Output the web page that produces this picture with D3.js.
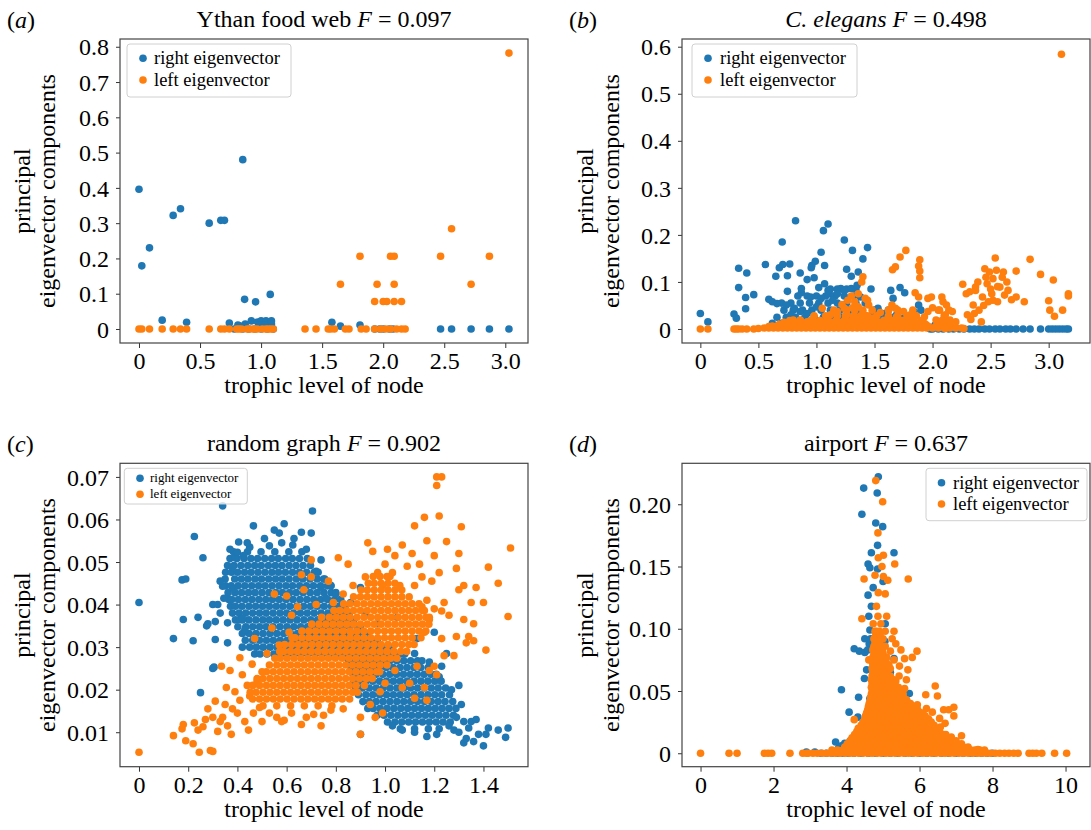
<!DOCTYPE html>
<html>
<head>
<meta charset="utf-8">
<script src="https://cdnjs.cloudflare.com/ajax/libs/d3/7.8.5/d3.min.js"></script>
<style>
  body { margin: 0; background: #fff; }
  svg { display: block; }
  text { font-family: "Liberation Serif", "Times New Roman", serif; fill: #000; }
</style>
</head>
<body>
<div id="chart"></div>
<script>
// ---- data ----
var blue = "#1f77b4", orange = "#ff7f0e";

// (a) Ythan food web
var ythanRight = [[0,0.396],[0.023,0.179],[0.086,0.230],[0.19,0.025],[0.28,0.322],[0.34,0.341],[0.39,0.019],
  [0.575,0.300],[0.67,0.308],[0.70,0.308],[0.74,0.017],[0.85,0.480],[0.865,0.084],[0.955,0.077],[1.075,0.098],
  [0.81,0.011],[0.87,0.014],[0.92,0.023],[0.97,0.020],[1.0,0.023],[1.04,0.023],[1.085,0.023],[1.085,0.014],
  [0.985,0.011],[1.03,0.011],[0.83,0.008],[1.58,0.019],[1.65,0.008],[1.81,0.011]];
var ythanRightZeroX = [0.78,0.85,0.9,0.95,1.0,1.05,1.1,1.93,1.97,2.0,2.05,2.08,2.47,2.56,2.72,2.87,3.03];
var ythanLeft = [[3.03,0.782],[2.56,0.284],[1.81,0.206],[2.06,0.206],[2.09,0.206],[2.47,0.206],[2.87,0.206],
  [1.65,0.127],[1.95,0.127],[2.09,0.127],[2.72,0.127],[1.93,0.078],[2.0,0.078],[2.03,0.078],[2.09,0.078],[2.15,0.078]];
var ythanLeftZeroX = [0,0.023,0.086,0.19,0.28,0.34,0.39,0.575,0.67,0.70,0.74,0.80,0.84,0.885,0.93,0.97,1.01,1.06,1.10,
  0.82,0.9,0.95,1.04,1.08,1.36,1.45,1.55,1.57,1.60,1.69,1.72,1.82,1.86,1.93,1.98,2.02,2.06,2.11,2.15,2.18];

// (b) C. elegans
var celegRight = [[0,0.033],[0.065,0.015],[0.29,0.032],[0.31,0.023],[0.33,0.129],[0.33,0.088],[0.40,0.119],[0.39,0.067],
  [0.39,0.043],[0.46,0.073],[0.56,0.137],[0.59,0.063],[0.65,0.112],[0.68,0.130],[0.71,0.137],[0.77,0.138],[0.705,0.185],
  [0.75,0.080],[0.75,0.113],[0.82,0.230],[0.86,0.119],[0.87,0.077],[0.87,0.086],[0.92,0.105],[0.955,0.130],[0.96,0.135],
  [0.99,0.144],[1.04,0.163],[1.06,0.209],[1.10,0.223],[1.07,0.135],[1.02,0.088],[0.98,0.109],[1.07,0.096],[1.11,0.075],
  [1.15,0.070],[1.24,0.189],[1.26,0.127],[1.31,0.167],[1.30,0.112],[1.36,0.121],[1.44,0.173],[1.40,0.149],[1.47,0.085],
  [1.21,0.086],[1.24,0.082],[1.30,0.086],[1.35,0.093],[1.38,0.068],[1.53,0.044],[1.64,0.082],[1.66,0.065],[1.72,0.088],
  [1.76,0.077],[1.88,0.051],[1.90,0.040],[1.84,0.037],[0.62,0.058],[0.66,0.054],[0.74,0.051],[0.81,0.044],[0.86,0.037],
  [0.95,0.068],[1.04,0.065],[1.10,0.082],[1.14,0.061],[1.18,0.075],[1.0,0.047],[0.92,0.033],[0.78,0.030],[1.48,0.030],
  [1.59,0.033],[1.69,0.030],[1.75,0.023],[1.81,0.019],[2.02,0.008],[2.07,0.004],[2.12,0.006],[2.17,0.003],[1.95,0.006]];
var celegRightCore = [
  [0.085,[1.12,1.18,1.26,1.34]],
  [0.070,[0.84,0.92,1.0,1.08,1.16,1.24,1.32]],
  [0.055,[0.7,0.78,0.86,0.94,1.02,1.1,1.18,1.26,1.34,1.42]],
  [0.040,[0.72,0.8,0.88,0.96,1.04,1.12,1.2,1.28,1.36,1.5,1.62]],
  [0.025,[0.66,0.74,0.82,0.9,0.98,1.06,1.14,1.22,1.3,1.38,1.46,1.54,1.66,1.78]],
  [0.012,[0.62,0.7,0.78,0.86,0.94,1.02,1.1,1.18,1.26,1.34,1.42,1.5,1.58,1.7,1.82,1.92]]];
var celegRightZeroX = [1.98,2.0,2.05,2.09,2.14,2.18,2.23,2.27,2.32,2.36,2.40,2.45,2.49,2.54,2.58,2.63,2.67,2.72,2.78,2.84,
  2.93,3.0,3.03,3.06,3.09,3.12,3.15,3.17];
var celegLeft = [[3.11,0.584],[1.72,0.153],[1.77,0.167],[1.655,0.126],[1.68,0.132],[1.89,0.147],[1.88,0.134],[1.89,0.123],
  [1.89,0.109],[1.85,0.077],[1.88,0.068],[1.96,0.065],[1.40,0.111],[1.39,0.100],[1.44,0.061],[1.45,0.051],[2.26,0.095],
  [2.29,0.075],[2.32,0.079],[2.37,0.082],[2.39,0.100],[2.45,0.128],[2.49,0.121],[2.52,0.107],[2.54,0.151],[2.51,0.075],
  [2.43,0.068],[2.35,0.051],[2.30,0.030],[2.36,0.033],[2.42,0.015],[2.61,0.121],[2.58,0.089],[2.62,0.072],[2.65,0.082],
  [2.72,0.123],[2.72,0.068],[2.79,0.058],[2.84,0.148],[2.93,0.116],[3.0,0.060],[3.01,0.040],[3.04,0.104],[3.05,0.027],
  [3.12,0.040],[3.17,0.075],[3.17,0.070],[2.48,0.058],[2.52,0.061],[2.56,0.058],[2.37,0.089],[2.47,0.096],[2.6,0.11],
  [1.99,0.068],[2.08,0.068],[2.09,0.058],[2.12,0.051],[2.05,0.040],[2.11,0.030],[2.17,0.037],[2.15,0.019],[2.20,0.015],
  [2.03,0.019],[2.11,0.001],[2.27,0.001],[1.93,0.026],[1.96,0.037],[1.27,0.061],[1.33,0.058],[1.36,0.047],[1.24,0.044],
  [1.18,0.037],[1.05,0.044],[1.12,0.030],[1.26,0.030],[1.33,0.026],[1.41,0.030],[1.48,0.023],[1.60,0.019],[1.65,0.051],
  [1.68,0.044],[1.75,0.037],[1.81,0.030],[1.69,0.026],[0.80,0.019],[0.86,0.019],[0.92,0.015],[0.74,0.012],[0.68,0.008],
  [0.59,0.005],[1.3,0.07],[1.36,0.075],[1.42,0.065],[1.31,0.045],[1.22,0.052],[1.55,0.035],[1.62,0.04],[2.0,0.045],
  [0,0],[0.065,0],[0.29,0],[0.31,0],[0.33,0],[0.36,0],[0.40,0],[0.46,0],[0.50,0.001],[2.33,0.02],[2.4,0.04],[2.56,0.09],
  [2.64,0.1],[2.68,0.062],[2.46,0.11],[2.55,0.125],[2.5,0.085],[2.44,0.05]];
var celegLeftCore = [
  [0.002,[0.55,0.59,0.63,0.67,0.71,0.75,0.79,0.83,0.87,0.91,0.95,0.99,1.03,1.07,1.11,1.15,1.19,1.23,1.27,1.31,1.35,1.39,
          1.43,1.47,1.51,1.55,1.59,1.63,1.67,1.71,1.75,1.79,1.83,1.87,1.91,1.95,2.0,2.05,2.1,2.15,2.2,2.25]],
  [0.006,[0.62,0.66,0.7,0.745,0.79,0.835,0.88,0.925,0.97,1.015,1.06,1.105,1.15,1.195,1.24,1.285,1.33,1.375,1.42,1.465,
          1.51,1.555,1.6,1.645,1.69,1.735,1.78,1.825,1.87,1.915,1.96,2.03,2.08,2.13,2.19]],
  [0.010,[0.68,0.74,0.8,0.86,0.92,0.98,1.04,1.1,1.16,1.22,1.28,1.34,1.4,1.46,1.52,1.58,1.64,1.7,1.76,1.82,1.88,1.94,
          2.05,2.1,2.15]],
  [0.014,[0.72,0.8,0.87,0.93,0.99,1.06,1.13,1.2,1.27,1.33,1.39,1.45,1.54,1.62,1.69,1.77,1.85,1.92,2.1,2.16]],
  [0.018,[0.77,0.86,0.95,1.03,1.1,1.17,1.24,1.3,1.36,1.42,1.5,1.58,1.66,1.74,1.82,1.9,2.08,2.13]],
  [0.028,[0.98,1.08,1.18,1.25,1.32,1.38,1.44,1.52,1.62,1.7,1.78,1.86,2.1]],
  [0.040,[1.15,1.26,1.33,1.4,1.48,1.7,1.83,2.06,2.14]]];

// (c) random graph
var randRight = [[0,0.0405],[0.14,0.032],[0.18,0.0365],[0.175,0.0458],[0.19,0.046],[0.22,0.0315],[0.225,0.056],[0.24,0.037],
  [0.25,0.0193],[0.26,0.051],[0.275,0.035],[0.28,0.0355],[0.30,0.025],[0.305,0.0253],[0.30,0.040],[0.31,0.0318],[0.31,0.036],
  [0.33,0.038],[0.34,0.0632],[0.34,0.0443],[0.345,0.0415],[0.36,0.0357],[0.36,0.031],[0.37,0.053],[0.38,0.0488],[0.385,0.0437],
  [0.39,0.051],[0.40,0.0523],[0.405,0.0547],[0.41,0.0365],[0.42,0.0367],[0.42,0.030],[0.425,0.0515],[0.43,0.034],
  [0.45,0.0535],[0.465,0.0585],[0.55,0.0575],[0.57,0.0568],[0.59,0.059],[0.625,0.054],[0.66,0.057],[0.70,0.0568],
  [0.705,0.062],[0.72,0.0478],[0.74,0.044],[0.75,0.046],[0.76,0.0415],[0.78,0.0445],[0.80,0.0425],[0.84,0.036],
  [0.9,0.044],[0.86,0.0405],[0.92,0.0375],[0.97,0.0355],[1.05,0.037],[1.13,0.032],[1.2,0.0335],[1.12,0.0285],
  [0.9,0.0095],[1.03,0.0115],[1.07,0.0105],[1.12,0.010],[1.17,0.009],[1.21,0.0095],[1.25,0.0285],[1.26,0.0115],
  [1.27,0.020],[1.28,0.0105],[1.29,0.0135],[1.3,0.021],[1.3,0.010],[1.31,0.0165],[1.32,0.0075],[1.32,0.0125],[1.33,0.0085],
  [1.34,0.011],[1.35,0.0125],[1.36,0.0078],[1.37,0.013],[1.38,0.0095],[1.40,0.0068],[1.41,0.0095],[1.42,0.011],
  [1.46,0.0105],[1.49,0.0088],[1.5,0.011],[1.23,0.0255],[1.22,0.023],[1.18,0.0265],[0.82,0.031],[0.87,0.033],[0.96,0.031],
  [0.51,0.0555],[0.63,0.0555],[0.68,0.053],[0.74,0.0505],[0.33,0.0455],[0.32,0.040],[0.44,0.0545],[0.53,0.0538],[0.58,0.0545]];
// dense blue cores, rows of [y, xs]
var randRightCore = [
  [0.0524,[0.384,0.441,0.496,0.552,0.609,0.662]],
  [0.0508,[0.370,0.398,0.427,0.455,0.482,0.511,0.539,0.566,0.596,0.623,0.652,0.684]],
  [0.0492,[0.360,0.386,0.414,0.442,0.470,0.497,0.526,0.554,0.581,0.610,0.638,0.667,0.697]],
  [0.0476,[0.352,0.376,0.401,0.429,0.456,0.484,0.512,0.540,0.567,0.595,0.624,0.652,0.681,0.712,0.728]],
  [0.0460,[0.350,0.389,0.416,0.443,0.471,0.498,0.527,0.555,0.582,0.610,0.639,0.666,0.695,0.724,0.755]],
  [0.0444,[0.352,0.375,0.403,0.430,0.458,0.486,0.513,0.541,0.569,0.597,0.624,0.653,0.681,0.709,0.738,0.766,0.780]],
  [0.0428,[0.362,0.390,0.417,0.445,0.472,0.500,0.528,0.556,0.583,0.612,0.639,0.667,0.696,0.724,0.752,0.781,0.800]],
  [0.0412,[0.365,0.377,0.404,0.432,0.459,0.487,0.515,0.542,0.570,0.598,0.626,0.654,0.682,0.710,0.738,0.767,0.795,0.820]],
  [0.0396,[0.372,0.392,0.419,0.447,0.474,0.502,0.530,0.558,0.585,0.613,0.641,0.669,0.697,0.725,0.753,0.782,0.811,0.838]],
  [0.0380,[0.380,0.407,0.434,0.462,0.490,0.517,0.545,0.573,0.600,0.628,0.656,0.684,0.712,0.740,0.768,0.797,0.826,0.855]],
  [0.0364,[0.392,0.420,0.447,0.475,0.503,0.530,0.558,0.586,0.614,0.642,0.670,0.698,0.726,0.754,0.783,0.812,0.841,0.872]],
  [0.0348,[0.402,0.434,0.462,0.490,0.517,0.545,0.573,0.601,0.629,0.657,0.685,0.713,0.741,0.769,0.798,0.827,0.856,0.886,0.900]],
  [0.0332,[0.420,0.448,0.476,0.504,0.532,0.560,0.588,0.616,0.644,0.672,0.700,0.728,0.756,0.785,0.814,0.843,0.872,0.901,0.928]],
  [0.0316,[0.432,0.462,0.490,0.518,0.546,0.574,0.602,0.630,0.658,0.686,0.714,0.742,0.771,0.800,0.829,0.858,0.887,0.916,0.945,0.968]],
  [0.0300,[0.450,0.477,0.505,0.533,0.561,0.589,0.617,0.645,0.673,0.701,0.729,0.757,0.786,0.815,0.844,0.873,0.902,0.931,0.960,0.990,1.018]],
  [0.0284,[0.470,0.492,0.520,0.548,0.576,0.604,0.632,0.660,0.688,0.716,0.744,0.772,0.801,0.830,0.859,0.888,0.917,0.946,0.975,1.004,1.034,1.064,1.080]],
  [0.0268,[0.852,0.880,0.908,0.936,0.964,0.992,1.020,1.048,1.076,1.104,1.132,1.150]],
  [0.0252,[0.862,0.893,0.921,0.949,0.977,1.005,1.033,1.061,1.089,1.117,1.145,1.175]],
  [0.0236,[0.870,0.880,0.907,0.935,0.963,0.991,1.019,1.047,1.075,1.103,1.131,1.159,1.187,1.208]],
  [0.0220,[0.872,0.894,0.922,0.950,0.978,1.006,1.034,1.062,1.090,1.118,1.146,1.174,1.202,1.228]],
  [0.0204,[0.880,0.908,0.936,0.964,0.992,1.020,1.048,1.076,1.104,1.132,1.160,1.188,1.216,1.246]],
  [0.0188,[0.892,0.922,0.950,0.978,1.006,1.034,1.062,1.090,1.118,1.146,1.174,1.202,1.230,1.262]],
  [0.0172,[0.910,0.936,0.964,0.992,1.020,1.048,1.076,1.104,1.132,1.160,1.188,1.216,1.244,1.275]],
  [0.0156,[0.930,0.952,0.980,1.008,1.036,1.064,1.092,1.120,1.148,1.176,1.204,1.232,1.260,1.288]],
  [0.0140,[0.968,0.996,1.024,1.052,1.080,1.108,1.136,1.164,1.192,1.220,1.248,1.278]],
  [0.0124,[1.010,1.040,1.068,1.096,1.124,1.152,1.180,1.208,1.236,1.265]],
  [0.0108,[1.062,1.120,1.176,1.220]]];
var randLeft = [[0,0.0053],[0.14,0.0092],[0.175,0.0108],[0.18,0.0118],[0.19,0.008],[0.22,0.0073],[0.225,0.0122],[0.24,0.0105],
  [0.245,0.0053],[0.26,0.0113],[0.27,0.013],[0.28,0.0155],[0.29,0.0057],[0.30,0.0055],[0.30,0.0135],[0.31,0.0173],[0.32,0.0102],
  [0.33,0.0125],[0.335,0.0255],[0.34,0.0135],[0.35,0.0165],[0.355,0.0205],[0.36,0.0115],[0.37,0.0245],[0.375,0.0095],[0.38,0.0155],
  [0.39,0.0195],[0.40,0.0145],[0.41,0.0275],[0.41,0.0175],[0.42,0.0235],[0.43,0.0125],[0.44,0.021],[0.445,0.0105],[0.45,0.0185],
  [0.46,0.026],[0.465,0.0145],[0.47,0.032],[0.48,0.022],[0.5,0.0125],[0.52,0.0285],[0.54,0.0345],[0.56,0.0135],[0.57,0.0305],
  [0.58,0.0125],[0.6,0.042],[0.61,0.0335],[0.62,0.0375],[0.645,0.0395],[0.67,0.0435],[0.7,0.0505],[0.7,0.0465],[0.72,0.040],
  [0.77,0.0455],[0.79,0.0405],[0.81,0.051],[0.83,0.0425],[0.83,0.0155],[0.85,0.0495],[0.87,0.0445],[0.9,0.0095],[0.9,0.0135],
  [0.92,0.0465],[0.93,0.0545],[0.95,0.0525],[0.97,0.0475],[0.99,0.0445],[1.0,0.0495],[1.01,0.053],[1.03,0.0475],[1.04,0.0515],
  [1.06,0.0445],[1.07,0.0205],[1.07,0.054],[1.09,0.049],[1.11,0.052],[1.12,0.0445],[1.12,0.0585],[1.13,0.0255],[1.14,0.0495],
  [1.15,0.0395],[1.15,0.0465],[1.16,0.0605],[1.16,0.0335],[1.17,0.055],[1.17,0.041],[1.18,0.0365],[1.18,0.0245],[1.19,0.0455],
  [1.2,0.0515],[1.2,0.039],[1.21,0.070],[1.21,0.068],[1.22,0.0608],[1.22,0.0475],[1.23,0.070],[1.23,0.0385],[1.23,0.032],
  [1.24,0.0405],[1.24,0.028],[1.25,0.0548],[1.26,0.0375],[1.28,0.028],[1.29,0.0325],[1.29,0.0485],[1.3,0.0435],[1.3,0.052],
  [1.31,0.0583],[1.32,0.0365],[1.32,0.0445],[1.33,0.031],[1.34,0.0325],[1.35,0.0405],[1.36,0.0315],[1.36,0.0355],[1.37,0.044],
  [1.40,0.0405],[1.41,0.0293],[1.42,0.0488],[1.46,0.045],[1.50,0.0372],[1.51,0.0533],[0.75,0.014],[0.68,0.0135],[0.62,0.0145],
  [0.96,0.0135],[0.99,0.0145],[1.0,0.0215],[1.04,0.0245],[1.16,0.0205],[1.17,0.0175],[1.2,0.0255],[1.21,0.0235],[0.98,0.0195],
  [1.1,0.0215],[0.94,0.0165],[1.12,0.018],[0.55,0.0425],[0.66,0.047],[0.86,0.0335],[0.74,0.0115],[0.53,0.0145],[0.59,0.0128],
  [0.66,0.0118],[0.71,0.0142],[0.49,0.0158],[0.78,0.0152]];
// dense orange core, rows of [y, xs]
var randLeftCore = [
  [0.0162,[0.504,0.560,0.616,0.672,0.728,0.784]],
  [0.0178,[0.462,0.490,0.518,0.546,0.574,0.602,0.630,0.658,0.686,0.714,0.742,0.770,0.798,0.826,0.856]],
  [0.0194,[0.452,0.476,0.504,0.532,0.560,0.588,0.616,0.644,0.672,0.700,0.728,0.756,0.784,0.812,0.840,0.868,0.888]],
  [0.0210,[0.462,0.490,0.518,0.546,0.574,0.602,0.630,0.658,0.686,0.714,0.742,0.770,0.798,0.826,0.854,0.882,0.916]],
  [0.0226,[0.480,0.504,0.532,0.560,0.588,0.616,0.644,0.672,0.700,0.728,0.756,0.784,0.812,0.840,0.868,0.896,0.924,0.948]],
  [0.0242,[0.500,0.518,0.546,0.574,0.602,0.630,0.658,0.686,0.714,0.742,0.770,0.798,0.826,0.854,0.882,0.910,0.938,0.966,0.978]],
  [0.0258,[0.530,0.560,0.588,0.616,0.644,0.672,0.700,0.728,0.756,0.784,0.812,0.840,0.868,0.896,0.924,0.952,0.980,1.008]],
  [0.0274,[0.552,0.574,0.602,0.630,0.658,0.686,0.714,0.742,0.770,0.798,0.826,0.854,0.882,0.910,0.938,0.966,0.994,1.022,1.048]],
  [0.0290,[0.572,0.588,0.616,0.644,0.672,0.700,0.728,0.756,0.784,0.812,0.840,0.868,0.896,0.924,0.952,0.980,1.008,1.036,1.064,1.088]],
  [0.0306,[0.592,0.620,0.648,0.676,0.704,0.732,0.760,0.788,0.816,0.844,0.872,0.900,0.928,0.956,0.984,1.012,1.040,1.068,1.096,1.118]],
  [0.0322,[0.622,0.634,0.662,0.690,0.718,0.746,0.774,0.802,0.830,0.858,0.886,0.914,0.942,0.970,0.998,1.026,1.054,1.082,1.110,1.146]],
  [0.0338,[0.662,0.690,0.718,0.746,0.774,0.802,0.830,0.858,0.886,0.914,0.942,0.970,0.998,1.026,1.054,1.082,1.110,1.138,1.166]],
  [0.0354,[0.702,0.732,0.760,0.788,0.816,0.844,0.872,0.900,0.928,0.956,0.984,1.012,1.040,1.068,1.096,1.124,1.152,1.178]],
  [0.0370,[0.742,0.774,0.802,0.830,0.858,0.886,0.914,0.942,0.970,0.998,1.026,1.054,1.082,1.110,1.138,1.166,1.180]],
  [0.0386,[0.792,0.816,0.844,0.872,0.900,0.928,0.956,0.984,1.012,1.040,1.068,1.096,1.124,1.152,1.160]],
  [0.0402,[0.832,0.858,0.886,0.914,0.942,0.970,0.998,1.026,1.054,1.082,1.110,1.138]],
  [0.0418,[0.872,0.900,0.928,0.956,0.984,1.012,1.040,1.068,1.098]],
  [0.0434,[0.902,0.928,0.956,0.984,1.012,1.040,1.068]],
  [0.0450,[0.932,0.956,0.984,1.012,1.040]],
  [0.0466,[0.952,0.980,1.008,1.020]]];

// (d) airport
var airRight = [[4.87,0.222],[4.47,0.213],[4.84,0.209],[4.42,0.192],[4.80,0.185],[4.99,0.182],[4.85,0.167],[4.68,0.161],
  [5.30,0.161],[4.59,0.152],[4.64,0.149],[4.85,0.148],[5.0,0.138],[4.73,0.133],[4.59,0.127],[4.68,0.118],[4.61,0.110],
  [5.06,0.104],[4.64,0.099],[4.50,0.092],[4.21,0.084],[4.35,0.082],[4.50,0.081],[5.01,0.075],[5.30,0.076],[4.55,0.067],
  [4.78,0.070],[4.49,0.060],[5.11,0.059],[3.86,0.051],[4.64,0.044],[4.33,0.045],[4.07,0.033],[4.31,0.029],[5.72,0.048],
  [3.70,0.009],[4.40,0.020],[4.50,0.016],[4.78,0.035],[5.16,0.040],[5.44,0.037],[3.93,0.004],[2.90,0.001],[3.13,0.001],
  [3.78,0.004],[3.86,0.006],[3.95,0.008],[4.02,0.006],[4.1,0.01],[4.2,0.012],[5.05,0.09],[4.95,0.078],[5.2,0.065],
  [4.62,0.088],[4.66,0.092],[4.58,0.083],[5.0,0.052],[4.95,0.06],[5.04,0.048],[4.7,0.045],[7.7,0.0],[7.85,0.0],[8.0,0.0]];
var airRightZeroX = [3.3,3.45,3.6,3.75,3.9,4.05,4.2,4.4,4.6,4.8,5.0,5.2,5.4,5.6,5.8,6.0,6.2,6.4,6.6,6.8,7.0,7.2,7.4,7.55];
var airLeft = [[4.80,0.219],[4.99,0.202],[4.86,0.177],[5.01,0.159],[4.87,0.157],[5.32,0.152],[4.97,0.150],[4.48,0.140],
  [4.78,0.143],[5.01,0.142],[5.13,0.139],[5.69,0.140],[4.87,0.129],[5.06,0.128],[4.82,0.118],[4.86,0.110],[4.42,0.108],
  [4.73,0.104],[4.94,0.104],[5.30,0.098],[4.82,0.098],[5.06,0.098],[4.92,0.092],[5.35,0.088],[5.49,0.083],
  [5.93,0.082],[5.06,0.086],[5.59,0.076],[5.80,0.077],[4.61,0.075],[4.86,0.069],[5.16,0.071],[5.68,0.067],
  [5.44,0.062],[5.01,0.062],[5.64,0.059],[5.16,0.056],[5.59,0.052],[6.43,0.054],[6.17,0.047],[6.49,0.046],
  [5.64,0.043],[5.94,0.039],[6.19,0.036],[6.66,0.035],[6.94,0.037],[6.80,0.035],[6.94,0.030],[6.35,0.033],[6.10,0.031],
  [5.91,0.024],[6.57,0.021],[6.87,0.013],[7.15,0.014],[6.47,0.013],[4.21,0.027],[4.36,0.016],[6.0,0.016],[6.28,0.017],
  [6.66,0.015],[6.28,0.007],[6.75,0.005],[7.04,0.005],[7.32,0.004],[7.60,0.003],[5.2,0.082],[5.25,0.092],[5.1,0.11],
  [5.3,0.075],[5.45,0.07],[5.5,0.05],[5.35,0.058],[6.05,0.026],[6.3,0.024],[6.2,0.028],[6.55,0.028],[6.7,0.024]];
var airLeftZeroX = [0,0.78,1.0,1.75,1.85,1.95,2.45,2.8,2.9,9.0,9.1,9.2,9.35,9.7,10.03];
// dense orange core, rows of [y, xs]
var airLeftCore = [
  [0.000,[2.95,3.08,3.2,3.33,3.45,3.58,3.7,3.82,3.95,4.08,4.2,4.33,4.45,4.58,4.7,4.83,4.95,5.08,5.2,5.33,5.45,5.58,5.7,5.83,
          5.95,6.08,6.2,6.33,6.45,6.58,6.7,6.83,6.95,7.08,7.2,7.33,7.45,7.58,7.7,7.83,7.95,8.08,8.2,8.33,8.45,8.58,8.7]],
  [0.0025,[3.6,3.75,3.9,4.02,4.15,4.28,4.4,4.52,4.65,4.78,4.9,5.02,5.15,5.28,5.4,5.52,5.65,5.78,5.9,6.02,6.15,6.28,6.4,
           6.52,6.65,6.78,6.9,7.02,7.15,7.28,7.4,7.52,7.65,7.78]],
  [0.005,[3.95,4.08,4.2,4.33,4.45,4.58,4.7,4.83,4.95,5.08,5.2,5.33,5.45,5.58,5.7,5.83,5.95,6.08,6.2,6.33,6.45,6.58,6.7,6.83,
          6.95,7.08,7.2,7.33]],
  [0.0075,[4.02,4.15,4.28,4.4,4.52,4.65,4.78,4.9,5.02,5.15,5.28,5.4,5.52,5.65,5.78,5.9,6.02,6.15,6.28,6.4,6.52,6.65,6.78,
           6.9,7.02,7.15]],
  [0.010,[4.1,4.22,4.35,4.48,4.6,4.72,4.85,4.98,5.1,5.22,5.35,5.48,5.6,5.72,5.85,5.98,6.1,6.22,6.35,6.48,6.6,6.72,6.85,7.0]],
  [0.0125,[4.15,4.28,4.4,4.52,4.65,4.78,4.9,5.02,5.15,5.28,5.4,5.52,5.65,5.78,5.9,6.02,6.15,6.28,6.4,6.52,6.65,6.8]],
  [0.015,[4.22,4.35,4.48,4.6,4.72,4.85,4.98,5.1,5.22,5.35,5.48,5.6,5.72,5.85,5.98,6.1,6.22,6.35,6.48,6.6,6.72]],
  [0.0175,[4.28,4.4,4.52,4.65,4.78,4.9,5.02,5.15,5.28,5.4,5.52,5.65,5.78,5.9,6.02,6.15,6.28,6.4,6.55]],
  [0.020,[4.32,4.45,4.58,4.7,4.82,4.95,5.08,5.2,5.32,5.45,5.58,5.7,5.82,5.95,6.08,6.2,6.32,6.45]],
  [0.0225,[4.4,4.52,4.65,4.78,4.9,5.02,5.15,5.28,5.4,5.52,5.65,5.78,5.9,6.02,6.15,6.28,6.4]],
  [0.025,[4.45,4.58,4.7,4.82,4.95,5.08,5.2,5.32,5.45,5.58,5.7,5.82,5.95,6.08,6.2,6.32]],
  [0.0275,[4.5,4.62,4.75,4.88,5.0,5.12,5.25,5.38,5.5,5.62,5.75,5.88,6.0,6.12,6.25]],
  [0.030,[4.52,4.65,4.78,4.9,5.02,5.15,5.28,5.4,5.52,5.65,5.78,5.9,6.02,6.15]],
  [0.0325,[4.55,4.68,4.8,4.92,5.05,5.18,5.3,5.42,5.55,5.68,5.8,5.92,6.05]],
  [0.035,[4.58,4.7,4.82,4.95,5.08,5.2,5.32,5.45,5.58,5.7,5.82,5.95]],
  [0.0375,[4.6,4.72,4.85,4.98,5.1,5.22,5.35,5.48,5.6,5.72,5.85]],
  [0.040,[4.62,4.75,4.88,5.0,5.12,5.25,5.38,5.5,5.62,5.75]],
  [0.0425,[4.65,4.78,4.9,5.02,5.15,5.28,5.4,5.52,5.65]],
  [0.045,[4.66,4.8,4.92,5.05,5.18,5.3,5.42,5.55]],
  [0.0475,[4.68,4.8,4.92,5.05,5.18,5.3,5.42,5.55]],
  [0.050,[4.7,4.82,4.95,5.08,5.2,5.32,5.45]],
  [0.053,[4.68,4.8,4.92,5.05,5.18,5.3,5.42]],
  [0.056,[4.7,4.82,4.95,5.08,5.2,5.32]],
  [0.059,[4.68,4.8,4.92,5.05,5.18,5.3]],
  [0.062,[4.7,4.82,4.95,5.08,5.2]],
  [0.065,[4.72,4.85,4.98,5.1]],
  [0.068,[4.7,4.82,4.95,5.08,5.2]],
  [0.071,[4.72,4.85,4.98,5.1]],
  [0.074,[4.7,4.82,4.95,5.08]],
  [0.077,[4.72,4.85,4.98,5.1]],
  [0.080,[4.75,4.88,5.0]],
  [0.083,[4.72,4.85,4.98]],
  [0.086,[4.75,4.88,5.0]],
  [0.089,[4.78,4.9]],
  [0.092,[4.75,4.88,5.0]],
  [0.095,[4.8,4.92]],
  [0.098,[4.78,4.9]]];

// ticks
var ythanXTicks = [0,0.5,1,1.5,2,2.5,3], ythanXLabels = ["0","0.5","1.0","1.5","2.0","2.5","3.0"];
var ythanYTicks = [0,0.1,0.2,0.3,0.4,0.5,0.6,0.7,0.8], ythanYLabels = ["0","0.1","0.2","0.3","0.4","0.5","0.6","0.7","0.8"];
var celegXTicks = ythanXTicks, celegXLabels = ythanXLabels;
var celegYTicks = [0,0.1,0.2,0.3,0.4,0.5,0.6], celegYLabels = ["0","0.1","0.2","0.3","0.4","0.5","0.6"];
var randXTicks = [0,0.2,0.4,0.6,0.8,1.0,1.2,1.4], randXLabels = ["0","0.2","0.4","0.6","0.8","1.0","1.2","1.4"];
var randYTicks = [0.01,0.02,0.03,0.04,0.05,0.06,0.07], randYLabels = ["0.01","0.02","0.03","0.04","0.05","0.06","0.07"];
var airXTicks = [0,2,4,6,8,10], airXLabels = ["0","2","4","6","8","10"];
var airYTicks = [0,0.05,0.1,0.15,0.2], airYLabels = ["0","0.05","0.10","0.15","0.20"];

// ---- helpers ----
function zeros(xs) { return xs.map(function(x) { return [x, 0]; }); }
function rows(r) {
  var out = [];
  r.forEach(function(row) { row[1].forEach(function(x) { out.push([x, row[0]]); }); });
  return out;
}

var W = 1091, H = 830, R = 3.8;
var svg = d3.select("#chart").append("svg").attr("width", W).attr("height", H);

var panels = [
  { tag: "a", left: 120, top: 39, w: 408, h: 304, xd: [-0.1555, 3.186], yd: [-0.0397, 0.822],
    xt: ythanXTicks, xl: ythanXLabels, yt: ythanYTicks, yl: ythanYLabels,
    title: [["Ythan food web ", false], ["F", true], [" = 0.097", false]],
    right: ythanRight.concat(zeros(ythanRightZeroX)), left_: ythanLeft.concat(zeros(ythanLeftZeroX)),
    legend: { x: 127, y: 44, w: 164, h: 53, mx: 143, tx: 154, r1: 58.3, r2: 80, fs: 18.5 } },
  { tag: "b", left: 682, top: 39, w: 408, h: 304, xd: [-0.158, 3.356], yd: [-0.0298, 0.6164],
    xt: celegXTicks, xl: celegXLabels, yt: celegYTicks, yl: celegYLabels,
    title: [["C. elegans", true], [" ", false], ["F", true], [" = 0.498", false]],
    right: rows(celegRightCore).concat(celegRight).concat(zeros(celegRightZeroX)),
    left_: rows(celegLeftCore).concat(celegLeft),
    legend: { x: 692, y: 44, w: 165, h: 53, mx: 708, tx: 720, r1: 58.3, r2: 80, fs: 18.5 } },
  { tag: "c", left: 120, top: 463.3, w: 408, h: 303.4, xd: [-0.0772, 1.581], yd: [0.0019, 0.0732],
    xt: randXTicks, xl: randXLabels, yt: randYTicks, yl: randYLabels,
    title: [["random graph ", false], ["F", true], [" = 0.902", false]],
    right: rows(randRightCore).concat(randRight), left_: rows(randLeftCore).concat(randLeft),
    legend: { x: 124.3, y: 468.3, w: 123, h: 35.7, mx: 140, tx: 150, r1: 478.3, r2: 494.3, fs: 13 } },
  { tag: "d", left: 682, top: 463.3, w: 408, h: 303.4, xd: [-0.508, 10.67], yd: [-0.0108, 0.2329],
    xt: airXTicks, xl: airXLabels, yt: airYTicks, yl: airYLabels,
    title: [["airport ", false], ["F", true], [" = 0.637", false]],
    right: zeros(airRightZeroX).concat(airRight),
    left_: zeros(airLeftZeroX).concat(rows(airLeftCore)).concat(airLeft),
    legend: { x: 926, y: 468.3, w: 161, h: 52.4, mx: 941.5, tx: 953, r1: 482.7, r2: 504, fs: 18.5 } }
];

panels.forEach(function(p, i) {
  var x = d3.scaleLinear().domain(p.xd).range([p.left, p.left + p.w]);
  var y = d3.scaleLinear().domain(p.yd).range([p.top + p.h, p.top]);
  var g = svg.append("g");

  var clipId = "clip" + i;
  svg.append("clipPath").attr("id", clipId).append("rect")
    .attr("x", p.left).attr("y", p.top).attr("width", p.w).attr("height", p.h);

  var dots = g.append("g").attr("clip-path", "url(#" + clipId + ")");
  dots.selectAll(".r").data(p.right).enter().append("circle")
    .attr("cx", function(d) { return x(d[0]); })
    .attr("cy", function(d) { return y(d[1]); })
    .attr("r", R).attr("fill", blue);
  dots.selectAll(".l").data(p.left_).enter().append("circle")
    .attr("cx", function(d) { return x(d[0]); })
    .attr("cy", function(d) { return y(d[1]); })
    .attr("r", R).attr("fill", orange);

  // axes
  var xAxis = g.append("g").attr("transform", "translate(0," + (p.top + p.h) + ")")
    .call(d3.axisBottom(x).tickValues(p.xt).tickFormat(function(d, k) { return p.xl[k]; }).tickSize(5).tickPadding(4));
  var yAxis = g.append("g").attr("transform", "translate(" + p.left + ",0)")
    .call(d3.axisLeft(y).tickValues(p.yt).tickFormat(function(d, k) { return p.yl[k]; }).tickSize(4).tickPadding(7));
  [xAxis, yAxis].forEach(function(a) {
    a.select(".domain").remove();
    a.selectAll("line").attr("stroke", "#333").attr("stroke-width", 1);
    a.selectAll("text").attr("font-size", 24).attr("fill", "#000");
  });
  yAxis.selectAll("text").attr("dy", "0.34em");

  g.append("rect").attr("x", p.left).attr("y", p.top).attr("width", p.w).attr("height", p.h)
    .attr("fill", "none").attr("stroke", "#444").attr("stroke-width", 1.2);

  // title
  var cx = p.left + p.w / 2;
  var ty = p.top - 12;
  var t = svg.append("text").attr("x", cx).attr("y", ty).attr("text-anchor", "middle").attr("font-size", 24);
  p.title.forEach(function(s) {
    t.append("tspan").text(s[0]).attr("font-style", s[1] ? "italic" : "normal");
  });
  // panel tag
  var tagX = p.left < 300 ? 7 : 569;
  var tg = svg.append("text").attr("x", tagX).attr("y", ty + 1).attr("font-size", 24);
  tg.append("tspan").text("(");
  tg.append("tspan").text(p.tag).attr("font-style", "italic");
  tg.append("tspan").text(")");

  // axis labels
  svg.append("text").attr("x", cx).attr("y", p.top + p.h + 50).attr("text-anchor", "middle")
    .attr("font-size", 24).text("trophic level of node");
  var cy = p.top + p.h / 2;
  var b1 = p.left - 90, b2 = p.left - 65;
  if (p.left > 300) { b1 = p.left - 89; b2 = p.left - 63; }
  svg.append("text").attr("transform", "translate(" + b1 + "," + cy + ") rotate(-90)")
    .attr("text-anchor", "middle").attr("font-size", 24).text("principal");
  svg.append("text").attr("transform", "translate(" + b2 + "," + cy + ") rotate(-90)")
    .attr("text-anchor", "middle").attr("font-size", 24).text("eigenvector components");

  // legend
  var L = p.legend;
  svg.append("rect").attr("x", L.x).attr("y", L.y).attr("width", L.w).attr("height", L.h)
    .attr("rx", 3).attr("fill", "#fff").attr("fill-opacity", 0.8).attr("stroke", "#d0d0d0").attr("stroke-width", 1);
  [[L.r1, blue, "right eigenvector"], [L.r2, orange, "left eigenvector"]].forEach(function(e) {
    svg.append("circle").attr("cx", L.mx).attr("cy", e[0]).attr("r", R).attr("fill", e[1]);
    svg.append("text").attr("x", L.tx).attr("y", e[0] + L.fs * 0.32).attr("font-size", L.fs).text(e[2]);
  });
});
</script>
</body>
</html>
